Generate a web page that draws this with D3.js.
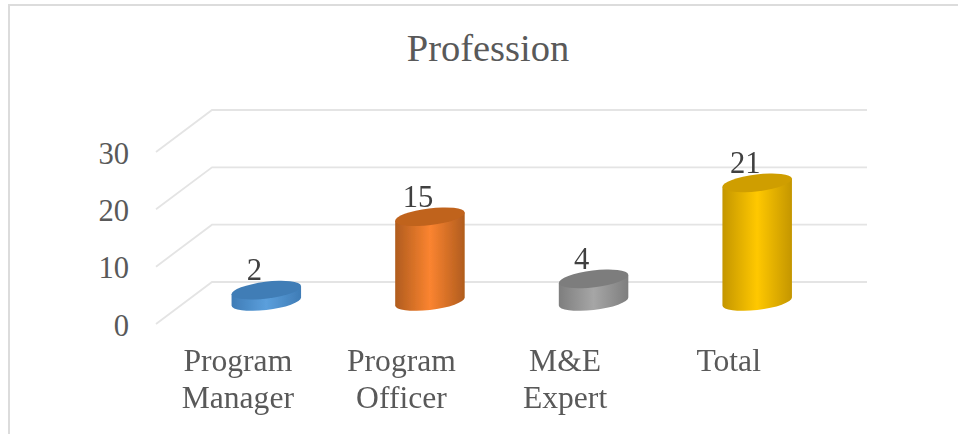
<!DOCTYPE html>
<html>
<head>
<meta charset="utf-8">
<script src="https://cdn.jsdelivr.net/npm/d3@7/dist/d3.min.js"></script>
<style>
html,body{margin:0;padding:0;background:#fff;overflow:hidden}
svg{display:block}
text{font-family:"Liberation Serif",serif}
</style>
</head>
<body>
<div id="chart"></div>
<script>
const titleText = "Profession";
const categories = ["Program Manager", "Program Officer", "M&E Expert", "Total"];
const categoryLines = [["Program", "Manager"], ["Program", "Officer"], ["M&E", "Expert"], ["Total"]];
const values = [2, 15, 4, 21];
const tickValues = [0, 10, 20, 30];
const topColors = ["#3f7db6", "#c0631f", "#7d7d7d", "#cf9e00"];
const edgeColors = ["#3f7cb6", "#b05c1e", "#7e7e7e", "#c49600"];
const midColors = ["#5b9fdc", "#fb8430", "#a6a6a6", "#ffc800"];

const W = 958, H = 434;
const svg = d3.select("#chart").append("svg").attr("width", W).attr("height", H);
const defs = svg.append("defs");
defs.append("filter").attr("id", "soft").append("feGaussianBlur").attr("stdDeviation", 0.45);

// frame (top and left only show in the reference)
svg.append("path").attr("d", `M9,${H}V5H${W}`).attr("fill", "none").attr("stroke", "#dcdcdc").attr("stroke-width", 2);

svg.append("text").attr("x", 488).attr("y", 61).attr("text-anchor", "middle")
  .attr("font-size", 38.5).attr("fill", "#595959").text(titleText);

// wall and floor geometry
const backX0 = 212, backX1 = 867, frontX = 156;
const yBack = d3.scaleLinear().domain([0, 30]).range([282, 110]);
const yFront = d3.scaleLinear().domain([0, 30]).range([324, 152]);
const barHeight = d3.scaleLinear().domain([0, 30]).range([0, 169.5]);
const x = d3.scaleBand().domain(categories).range([184.5, 839]);
const baseY = 301.5, rx = 35, ry = 8.4, tilt = -7;

const grid = svg.append("g").attr("filter", "url(#soft)");
grid.selectAll("path").data(tickValues).join("path")
  .attr("d", d => `M${frontX},${yFront(d)}L${backX0},${yBack(d)}H${backX1}`)
  .attr("fill", "none").attr("stroke", "#e4e4e4").attr("stroke-width", 1.8);

// value axis on the front edge
const axis = svg.append("g").attr("transform", `translate(${frontX},1.5)`)
  .call(d3.axisLeft(yFront).tickValues(tickValues).tickSize(0).tickPadding(27));
axis.select(".domain").remove();
axis.selectAll("text").attr("font-size", 30.6).attr("fill", "#595959")
  .style("font-family", '"Liberation Serif",serif');

// cylinder silhouette points
const rad = tilt * Math.PI / 180, c = Math.cos(rad), s = Math.sin(rad);
const exX = Math.sqrt(rx * rx * c * c + ry * ry * s * s);
const exY = (rx * rx - ry * ry) * c * s / exX;   // y offset of the right extreme

const bars = svg.append("g").attr("filter", "url(#soft)").selectAll("g").data(categories).join("g");

categories.forEach((cat, i) => {
  const cx = x(cat) + x.bandwidth() / 2;
  const g = defs.append("linearGradient").attr("id", "body" + i)
    .attr("gradientUnits", "userSpaceOnUse")
    .attr("x1", cx - exX).attr("x2", cx + exX).attr("y1", 0).attr("y2", 0);
  g.append("stop").attr("offset", 0).attr("stop-color", edgeColors[i]);
  g.append("stop").attr("offset", 0.5).attr("stop-color", midColors[i]);
  g.append("stop").attr("offset", 1).attr("stop-color", edgeColors[i]);
});

bars.append("path")
  .attr("fill", (d, i) => `url(#body${i})`)
  .attr("d", (d, i) => {
    const cx = x(d) + x.bandwidth() / 2, top = baseY - barHeight(values[i]);
    return `M${cx - exX},${top - exY}L${cx - exX},${baseY - exY}` +
      `A${rx},${ry} ${tilt} 0 0 ${cx + exX},${baseY + exY}` +
      `L${cx + exX},${top + exY}Z`;
  });

bars.append("ellipse")
  .attr("rx", rx).attr("ry", ry).attr("fill", (d, i) => topColors[i])
  .attr("transform", (d, i) => `translate(${x(d) + x.bandwidth() / 2},${baseY - barHeight(values[i])}) rotate(${tilt})`);

// data labels
svg.append("g").selectAll("text").data(categories).join("text")
  .attr("x", d => x(d) + x.bandwidth() / 2 - 12)
  .attr("y", (d, i) => baseY - barHeight(values[i]) - 10)
  .attr("text-anchor", "middle").attr("font-size", 30.6).attr("fill", "#404040")
  .text((d, i) => values[i]);

// category labels
const cats = svg.append("g").selectAll("text").data(categories).join("text")
  .attr("text-anchor", "middle").attr("font-size", 31.6).attr("fill", "#595959")
  .attr("y", 371);
cats.each(function (d, i) {
  d3.select(this).selectAll("tspan").data(categoryLines[i]).join("tspan")
    .attr("x", x(d) + x.bandwidth() / 2 - 28.5)
    .attr("dy", (t, j) => j ? 36.6 : 0)
    .text(t => t);
});
</script>
</body>
</html>
